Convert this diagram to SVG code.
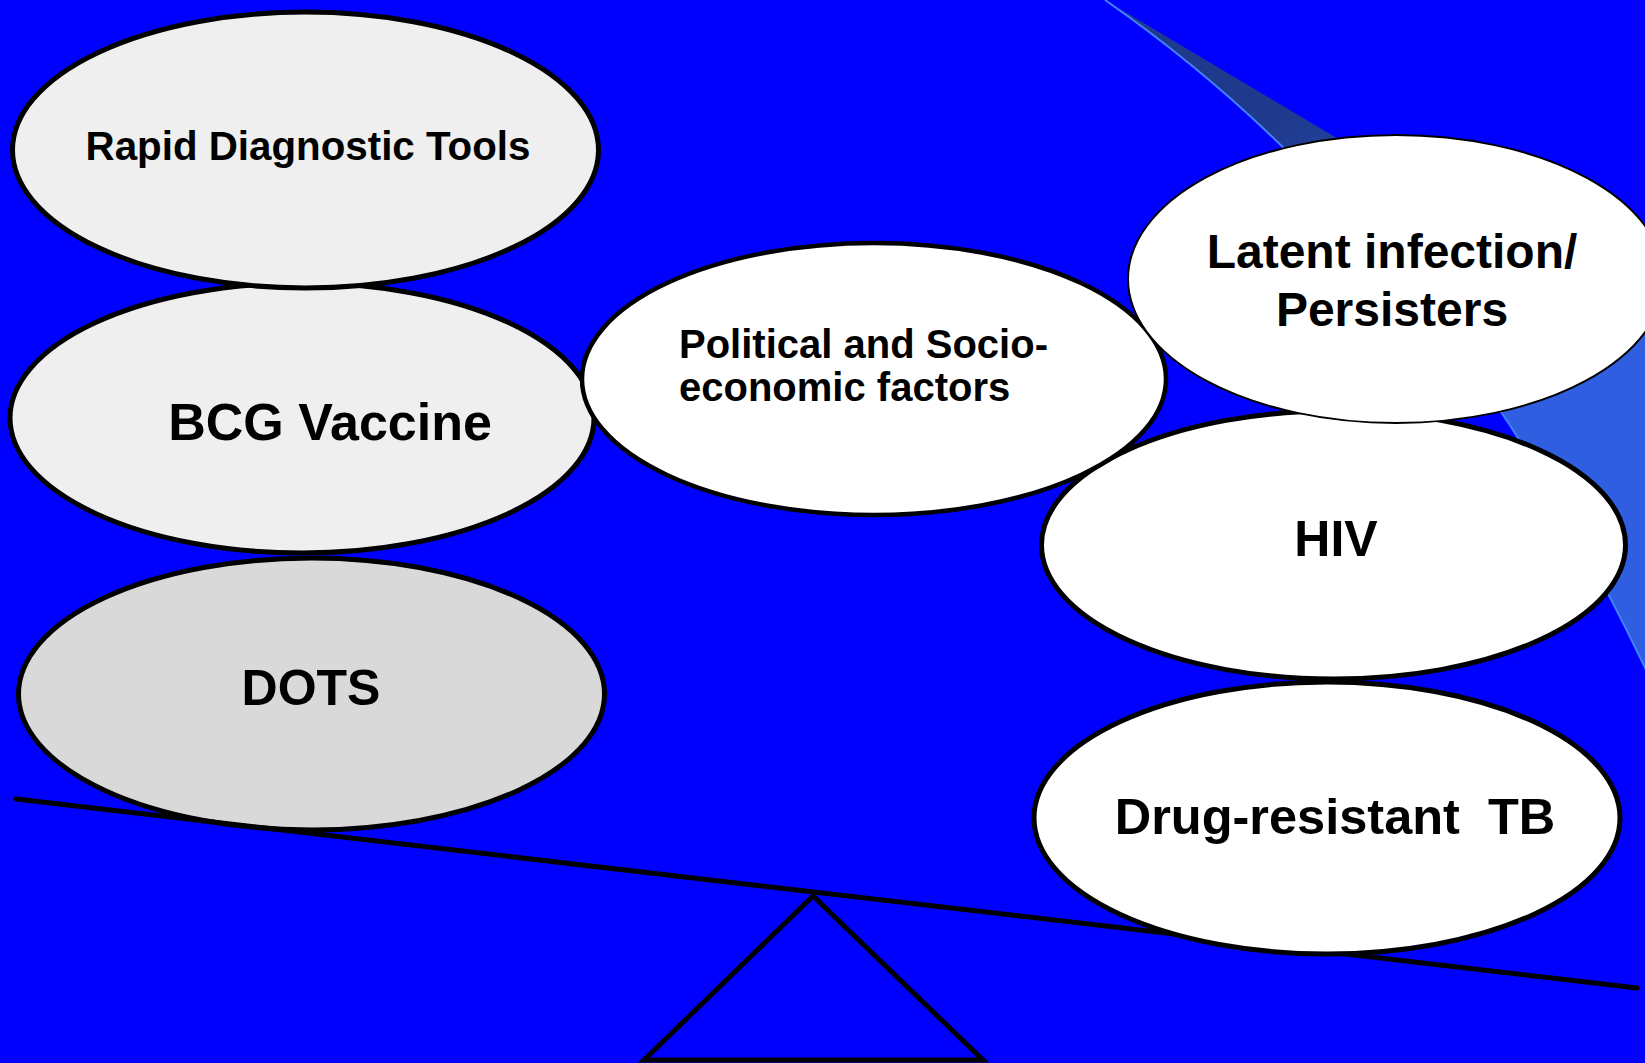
<svg xmlns="http://www.w3.org/2000/svg" width="1645" height="1063" viewBox="0 0 1645 1063">
<defs>
<linearGradient id="swooshGrad" gradientUnits="userSpaceOnUse" x1="1150" y1="0" x2="1600" y2="520">
<stop offset="0.25" stop-color="#1f3a8c"/>
<stop offset="0.75" stop-color="#2f5fe0"/>
</linearGradient>
<style>
.node ellipse{stroke:#000;stroke-width:5}
.lbl{font-family:"Liberation Sans",Arial,sans-serif;font-weight:bold;fill:#000}
.c{text-anchor:middle}
.lever{stroke:#000;stroke-width:5;fill:none;stroke-linecap:round;stroke-linejoin:miter}
</style>
</defs>
<rect x="0" y="0" width="1645" height="1063" fill="#0000ff"/>
<g id="swoosh">
<path d="M1105,0 Q1450,240 1660,700 L1660,330 L1335,137 Z" fill="url(#swooshGrad)"/>
<path d="M1105,0 Q1450,240 1660,700" fill="none" stroke="#4282ff" stroke-width="2"/>
</g>
<g id="node-dots" class="node">
<ellipse cx="311.5" cy="694" rx="293" ry="136" fill="#d9d9d9"/>
<text class="lbl c" x="311" y="705" font-size="50">DOTS</text>
</g>
<g id="connectors">
<line class="lever" x1="16" y1="799" x2="1637" y2="988"/>
<polygon class="lever" points="813,896 644,1060 983,1060"/>
</g>
<g id="node-bcg" class="node">
<ellipse cx="302" cy="418" rx="292" ry="135" fill="#efefef"/>
<text class="lbl c" x="330" y="440" font-size="52">BCG Vaccine</text>
</g>
<g id="node-rapid" class="node">
<ellipse cx="305.5" cy="150" rx="293" ry="138" fill="#efefef"/>
<text class="lbl c" x="308" y="160" font-size="40.3">Rapid Diagnostic Tools</text>
</g>
<g id="node-drug" class="node">
<ellipse cx="1327" cy="818" rx="293" ry="136" fill="#ffffff"/>
<text class="lbl c" x="1335" y="834" font-size="50.5" xml:space="preserve">Drug-resistant  TB</text>
</g>
<g id="node-hiv" class="node">
<ellipse cx="1333.5" cy="545" rx="292" ry="134" fill="#ffffff"/>
<text class="lbl c" x="1336" y="556" font-size="50">HIV</text>
</g>
<g id="node-political" class="node">
<ellipse cx="874" cy="379" rx="292" ry="136" fill="#ffffff" style="stroke-width:4.5"/>
<text class="lbl" x="679" y="358" font-size="40">Political and Socio-</text>
<text class="lbl" x="679" y="401" font-size="40">economic factors</text>
</g>
<g id="node-latent" class="node">
<ellipse cx="1396" cy="279" rx="268" ry="144" fill="#ffffff" style="stroke-width:2"/>
<text class="lbl c" x="1392" y="268" font-size="48">Latent infection/</text>
<text class="lbl c" x="1392" y="326" font-size="48">Persisters</text>
</g>
</svg>
